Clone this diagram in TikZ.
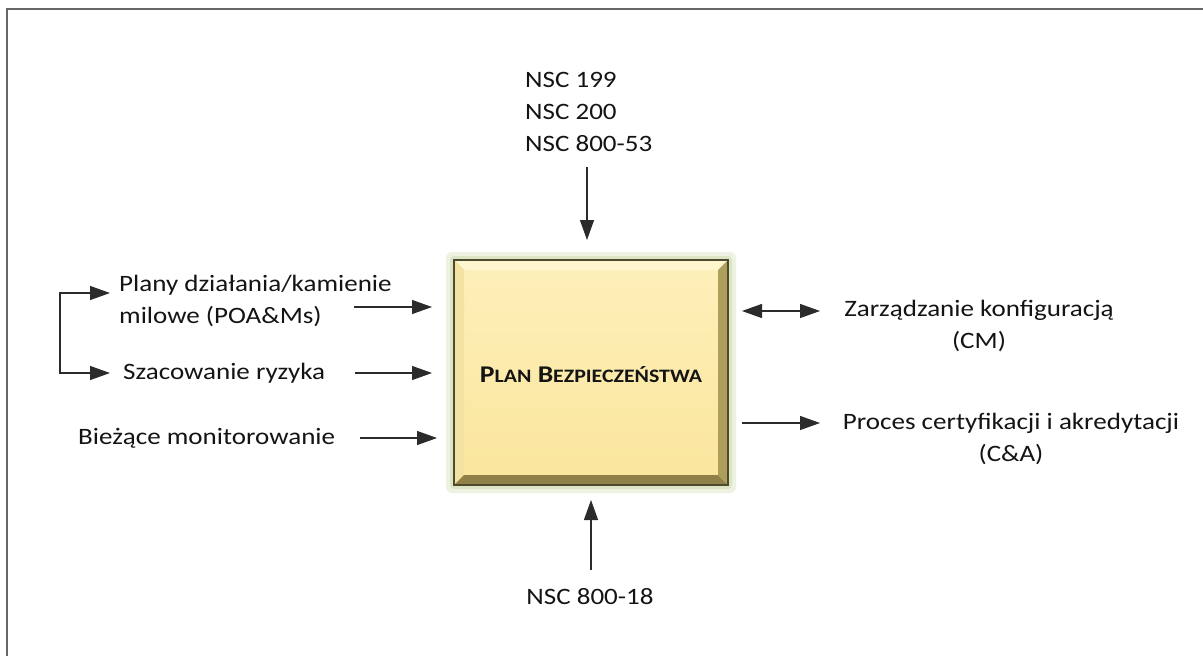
\documentclass[tikz,border=0pt]{standalone}
\usepackage{fontspec}
\setmainfont{Carlito}[FakeStretch=1.15]
\usetikzlibrary{arrows.meta}
\definecolor{txt}{HTML}{141414}
\definecolor{lnc}{HTML}{2B2B2B}
\definecolor{framec}{HTML}{666666}
\definecolor{glowa}{HTML}{EEF2E2}
\definecolor{glowb}{HTML}{DCE5C4}
\definecolor{boxedge}{HTML}{4D4A30}
\definecolor{facetop}{HTML}{FFF6D0}
\definecolor{faceleft}{HTML}{F3E2A2}
\definecolor{facebot}{HTML}{8E8048}
\definecolor{faceright}{HTML}{AE9E5C}
\definecolor{faceA}{HTML}{FDF0BA}
\definecolor{faceB}{HTML}{FAE59C}
\begin{document}
\begin{tikzpicture}[x=1pt,y=-1pt,
  lbl/.style={font=\fontsize{23.5}{32}\selectfont, text=txt, inner sep=0pt},
  arr/.style={draw=lnc, line width=1.3pt, -{Triangle[length=20pt,width=14pt]}},
  darr/.style={draw=lnc, line width=1.3pt, {Triangle[length=20pt,width=14pt]}-{Triangle[length=20pt,width=14pt]}},
  ]
\useasboundingbox (0,0) rectangle (1203,656);
\fill[white] (0,0) rectangle (1203,656);
\draw[framec, line width=2pt] (7,656) -- (7,9) -- (1203,9);

% central box with bevel and glow
\fill[glowa, rounded corners=6pt] (446,252) rectangle (736,493);
\fill[glowb, rounded corners=4pt] (450,256) rectangle (732,489);
\shade[top color=faceA, bottom color=faceB] (454,260) rectangle (728,485);
\fill[facetop] (454,260) -- (728,260) -- (718,270) -- (464,270) -- cycle;
\fill[faceleft] (454,260) -- (464,270) -- (464,475) -- (454,485) -- cycle;
\fill[facebot] (454,485) -- (464,475) -- (718,475) -- (728,485) -- cycle;
\fill[faceright] (728,260) -- (718,270) -- (718,475) -- (728,485) -- cycle;
\draw[boxedge, line width=1.5pt] (454,260) rectangle (728,485);
\node[inner sep=0pt, minimum width=274pt, minimum height=225pt] (box) at (591,372.5) {};
\node[text=txt, inner sep=0pt] (plan) at (591,375)
  {\bfseries\fontsize{24}{26}\selectfont P{\fontsize{19}{26}\selectfont LAN} B{\fontsize{19}{26}\selectfont EZPIECZEŃSTWA}};

% top inputs
\node[lbl, anchor=north west, align=left] (nsc) at (525,72) {NSC 199\\NSC 200\\NSC 800-53};
\coordinate (ts) at (587,167);
\coordinate (te) at (587,240);
\draw[arr] (ts) -- (te);

% bottom input
\node[lbl] (nsc18) at (590,597) {NSC 800-18};
\coordinate (bs) at (591,570);
\coordinate (be) at (591,500);
\draw[arr] (bs) -- (be);

% left inputs
\node[lbl, anchor=west, align=left] (poam) at (119,301) {Plany działania/kamienie\\milowe (POA\&Ms)};
\node[lbl, anchor=west] (risk) at (123,373) {Szacowanie ryzyka};
\node[lbl, anchor=west] (mon) at (78,438) {Bieżące monitorowanie};
\coordinate (p1s) at (354,307);
\coordinate (p1e) at (432,307);
\coordinate (p2s) at (355,373);
\coordinate (p2e) at (432,373);
\coordinate (p3s) at (360,438);
\coordinate (p3e) at (437,438);
\draw[arr] (p1s) -- (p1e);
\draw[arr] (p2s) -- (p2e);
\draw[arr] (p3s) -- (p3e);

% bracket between POA&Ms and risk assessment
\coordinate (brt) at (110,293);
\coordinate (brb) at (110,373);
\coordinate (brtl) at (60,293);
\coordinate (brbl) at (60,373);
\draw[darr] (brt) -- (brtl) -- (brbl) -- (brb);

% right outputs
\node[lbl, align=center] (cm) at (979,326) {Zarządzanie konfiguracją\\(CM)};
\node[lbl, align=center] (ca) at (1011,439) {Proces certyfikacji i akredytacji\\(C\&A)};
\coordinate (r1s) at (742,311);
\coordinate (r1e) at (820,311);
\coordinate (r2s) at (742,423);
\coordinate (r2e) at (820,423);
\draw[darr] (r1s) -- (r1e);
\draw[arr] (r2s) -- (r2e);
\end{tikzpicture}
\end{document}
